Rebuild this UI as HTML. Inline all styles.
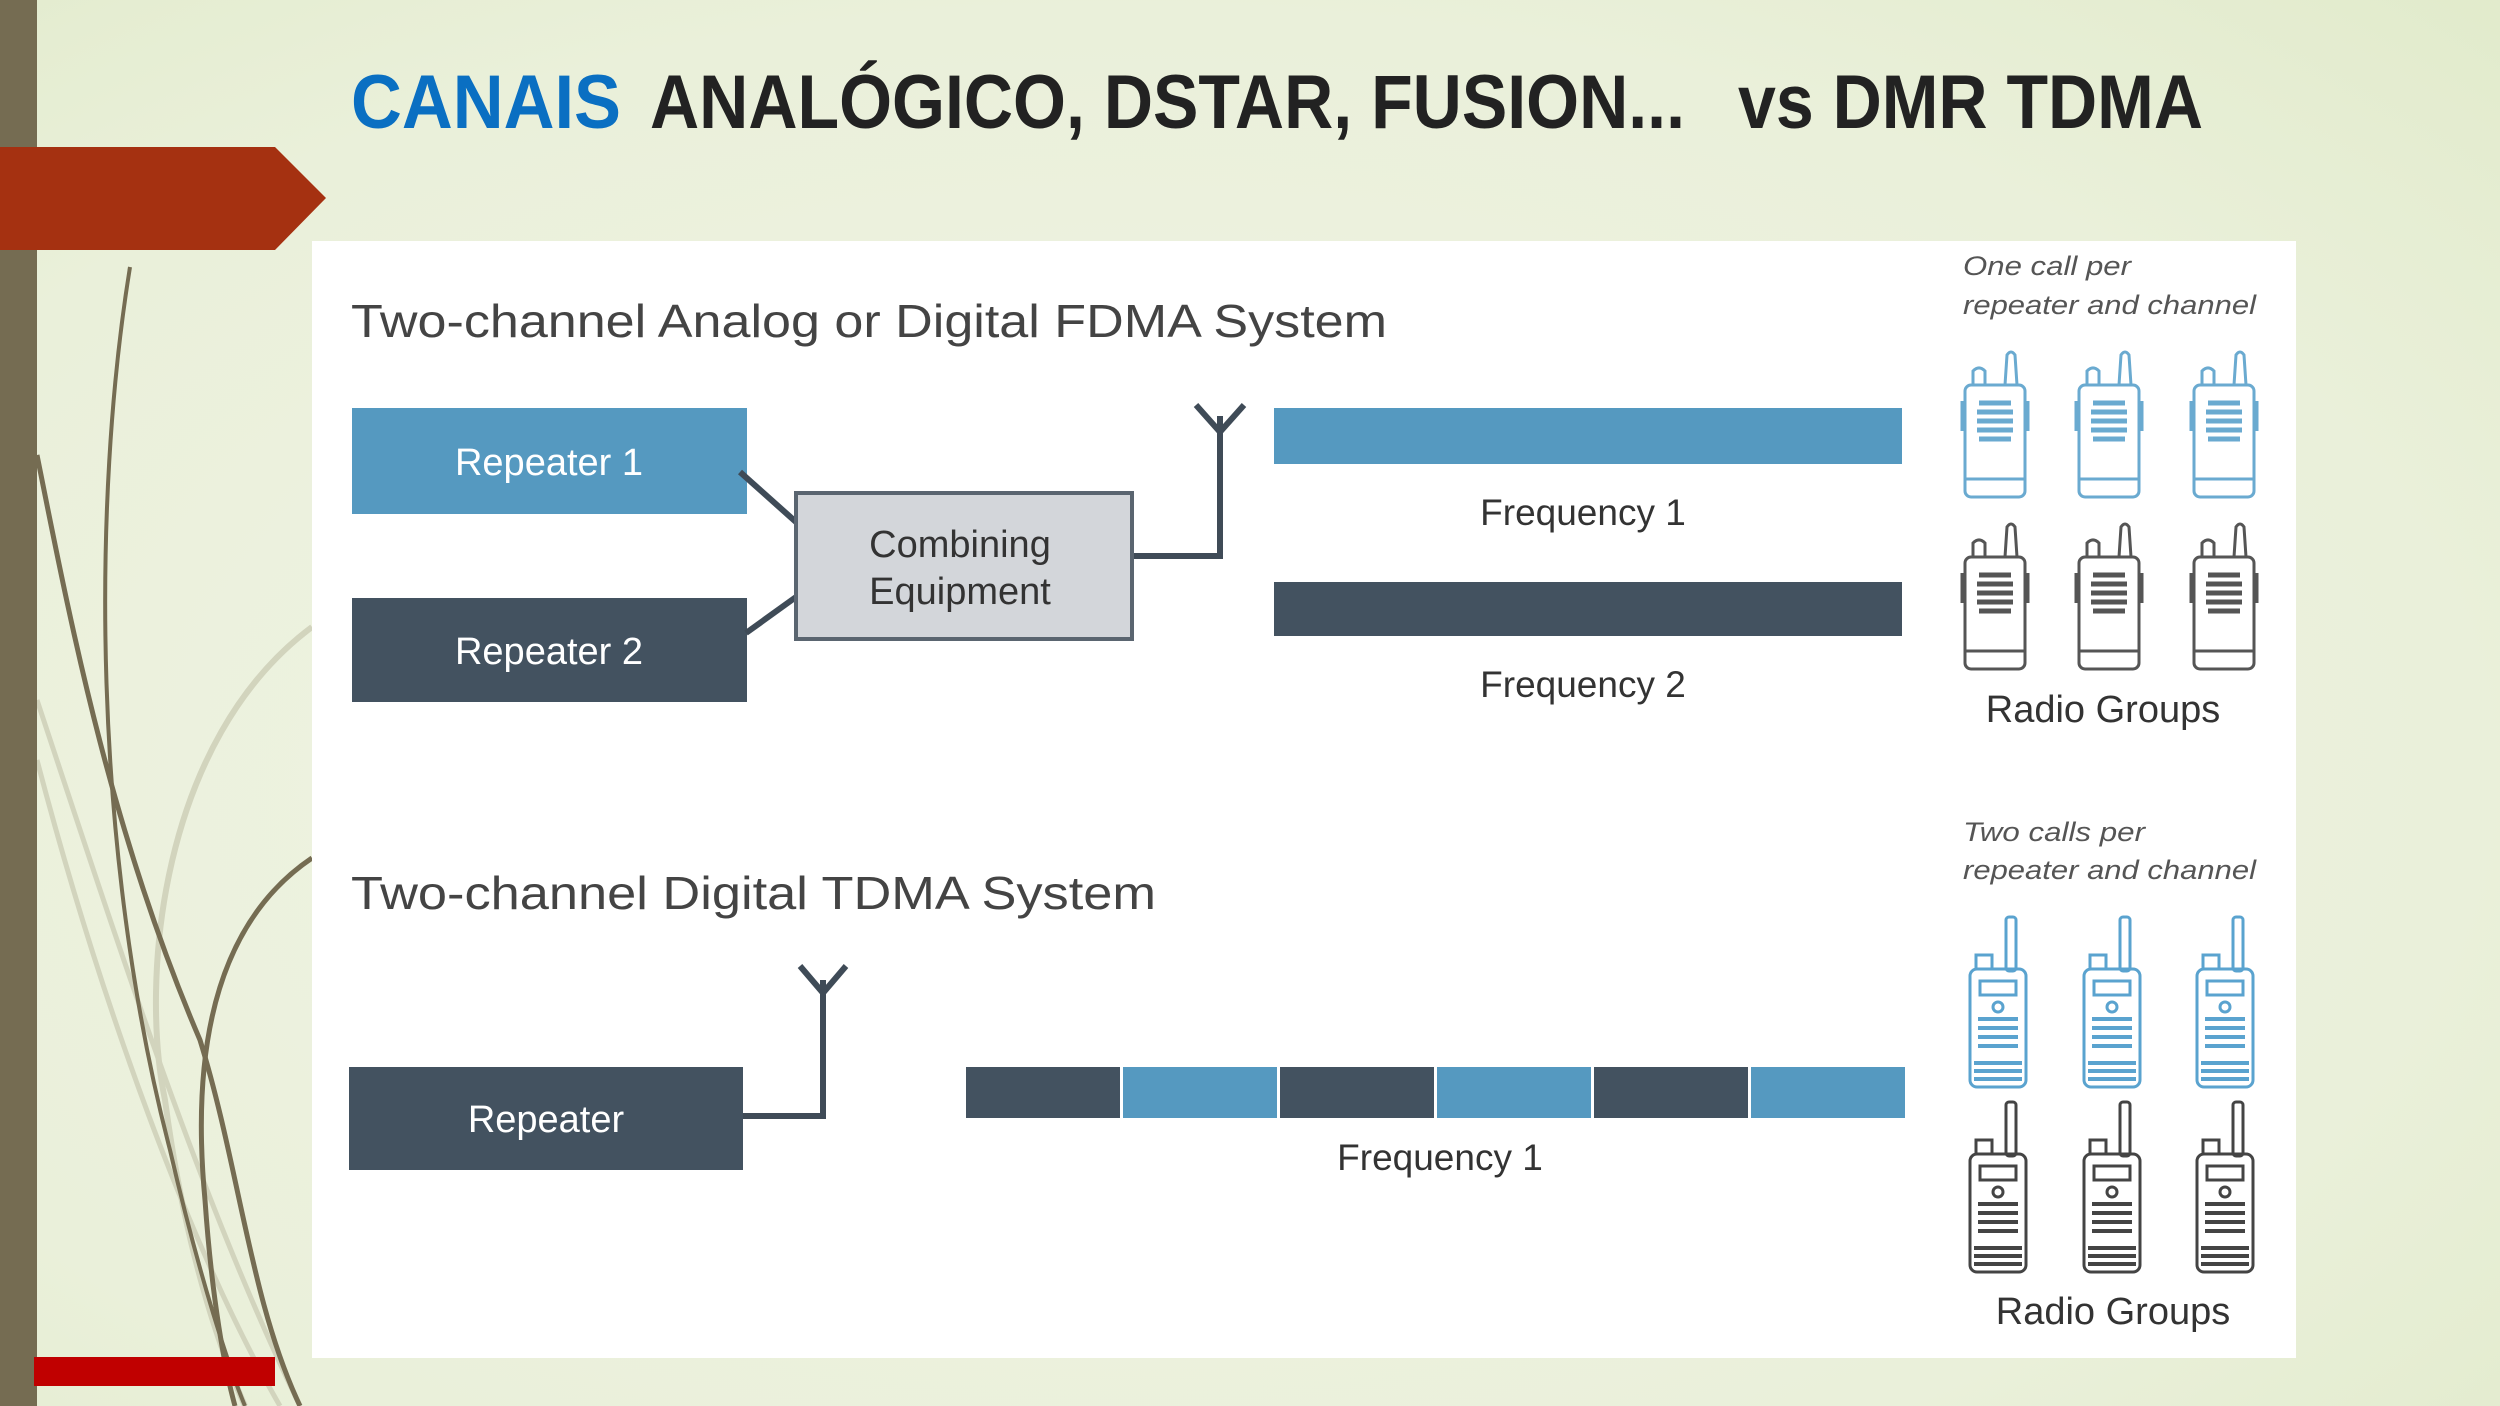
<!DOCTYPE html>
<html><head><meta charset="utf-8"><style>
html,body{margin:0;padding:0;width:2500px;height:1406px;overflow:hidden}
svg{display:block}
text{font-family:"Liberation Sans",sans-serif}
</style></head><body>
<svg width="2500" height="1406" viewBox="0 0 2500 1406" xmlns="http://www.w3.org/2000/svg">
<defs>
<radialGradient id="bg" cx="0.45" cy="0.55" r="0.9">
<stop offset="0" stop-color="#f1f4e6"/><stop offset="0.6" stop-color="#eaf0da"/><stop offset="1" stop-color="#dde8c4"/>
</radialGradient>
<g id="ar" fill="none" stroke-width="3">
<rect x="-30" y="34" width="60" height="112" rx="6"/>
<line x1="-30" y1="128" x2="30" y2="128"/>
<path d="M10 34 L12 4 Q16 -2 20 4 L22 34"/>
<path d="M-22 34 L-22 20 Q-16 14 -10 20 L-10 34"/>
<line x1="-33" y1="50" x2="-33" y2="80"/><line x1="33" y1="50" x2="33" y2="80"/>
<g stroke-width="5"><line x1="-16" y1="52" x2="16" y2="52"/><line x1="-18" y1="61" x2="18" y2="61"/><line x1="-18" y1="70" x2="18" y2="70"/><line x1="-18" y1="79" x2="18" y2="79"/><line x1="-16" y1="88" x2="16" y2="88"/></g>
</g>
<g id="dr" fill="none" stroke-width="3">
<rect x="-28" y="52" width="56" height="118" rx="7"/>
<rect x="8" y="0" width="10" height="54" rx="3"/>
<rect x="-22" y="38" width="16" height="14"/>
<rect x="-18" y="64" width="36" height="14"/>
<circle cx="0" cy="90" r="5"/>
<g stroke-width="4"><line x1="-20" y1="102" x2="20" y2="102"/><line x1="-20" y1="111" x2="20" y2="111"/><line x1="-20" y1="120" x2="20" y2="120"/><line x1="-20" y1="129" x2="20" y2="129"/><line x1="-24" y1="146" x2="24" y2="146"/><line x1="-24" y1="154" x2="24" y2="154"/><line x1="-24" y1="162" x2="24" y2="162"/></g>
</g>
</defs>
<rect width="2500" height="1406" fill="url(#bg)"/>
<g fill="none">
<path d="M37 700 C120 950 200 1200 300 1406" stroke="#d2d4bd" stroke-width="5"/>
<path d="M37 760 C100 1000 190 1250 280 1406" stroke="#d2d4bd" stroke-width="5"/>
<path d="M312 627 C160 740 140 980 165 1100 C185 1250 220 1350 245 1406" stroke="#d2d4bd" stroke-width="6"/>
<path d="M130 267 C92 500 92 850 170 1150 C200 1280 230 1370 245 1406" stroke="#756c52" stroke-width="4"/>
<path d="M37 455 C70 620 110 830 200 1040 C240 1170 250 1300 300 1406" stroke="#756c52" stroke-width="5"/>
<path d="M312 858 C220 920 190 1040 205 1200 C212 1300 225 1370 235 1406" stroke="#756c52" stroke-width="5"/>
</g>
<rect x="0" y="0" width="37" height="1406" fill="#756c52"/>
<path d="M0 147 H275 L326 198 L275 250 H0 Z" fill="#a53111"/>
<rect x="34" y="1357" width="241" height="29" fill="#c00000"/>
<text x="351" y="128" font-size="76" font-weight="bold" fill="#0a6fc2" textLength="270" lengthAdjust="spacingAndGlyphs">CANAIS</text>
<text x="650" y="128" font-size="76" font-weight="bold" fill="#222" textLength="1035" lengthAdjust="spacingAndGlyphs">ANALÓGICO, DSTAR, FUSION...</text>
<text x="1738" y="128" font-size="76" font-weight="bold" fill="#222" textLength="465" lengthAdjust="spacingAndGlyphs">vs DMR TDMA</text>
<rect x="312" y="241" width="1984" height="1117" fill="#fff"/>
<text x="351" y="337" font-size="46" fill="#444" textLength="1036" lengthAdjust="spacingAndGlyphs">Two-channel Analog or Digital FDMA System</text>
<rect x="352" y="408" width="395" height="106" fill="#5599c0"/>
<text x="549" y="475" font-size="38" fill="#fff" text-anchor="middle">Repeater 1</text>
<rect x="352" y="598" width="395" height="104" fill="#435260"/>
<text x="549" y="664" font-size="38" fill="#fff" text-anchor="middle">Repeater 2</text>
<g stroke="#3f4b57" stroke-width="6" fill="none">
<line x1="740" y1="472" x2="796" y2="522"/>
<line x1="746" y1="633" x2="796" y2="597"/>
<polyline points="1132,556 1220,556 1220,416"/>
<polyline points="1196,405 1220,432 1244,405"/>
<polyline points="743,1116 823,1116 823,980"/>
<polyline points="800,966 823,993 846,966"/>
</g>
<rect x="796" y="493" width="336" height="146" fill="#d3d6da" stroke="#5a6570" stroke-width="4"/>
<text x="960" y="557" font-size="38" fill="#333" text-anchor="middle">Combining</text>
<text x="960" y="604" font-size="38" fill="#333" text-anchor="middle">Equipment</text>
<rect x="1274" y="408" width="628" height="56" fill="#5599c0"/>
<text x="1583" y="525" font-size="37" fill="#333" text-anchor="middle">Frequency 1</text>
<rect x="1274" y="582" width="628" height="54" fill="#435260"/>
<text x="1583" y="697" font-size="37" fill="#333" text-anchor="middle">Frequency 2</text>
<text x="1963" y="275" font-size="27" font-style="italic" fill="#555" textLength="168" lengthAdjust="spacingAndGlyphs">One call per</text>
<text x="1963" y="314" font-size="27" font-style="italic" fill="#555" textLength="293" lengthAdjust="spacingAndGlyphs">repeater and channel</text>
<g stroke="#6aaad0"><use href="#ar" x="1995" y="351"/><use href="#ar" x="2109" y="351"/><use href="#ar" x="2224" y="351"/></g>
<g stroke="#555"><use href="#ar" x="1995" y="523"/><use href="#ar" x="2109" y="523"/><use href="#ar" x="2224" y="523"/></g>
<text x="2103" y="722" font-size="38" fill="#333" text-anchor="middle">Radio Groups</text>
<text x="351" y="909" font-size="46" fill="#444" textLength="805" lengthAdjust="spacingAndGlyphs">Two-channel Digital TDMA System</text>
<rect x="349" y="1067" width="394" height="103" fill="#435260"/>
<text x="546" y="1132" font-size="38" fill="#fff" text-anchor="middle">Repeater</text>
<rect x="966" y="1067" width="154" height="51" fill="#435260"/>
<rect x="1123" y="1067" width="154" height="51" fill="#5599c0"/>
<rect x="1280" y="1067" width="154" height="51" fill="#435260"/>
<rect x="1437" y="1067" width="154" height="51" fill="#5599c0"/>
<rect x="1594" y="1067" width="154" height="51" fill="#435260"/>
<rect x="1751" y="1067" width="154" height="51" fill="#5599c0"/>
<text x="1440" y="1170" font-size="37" fill="#333" text-anchor="middle">Frequency 1</text>
<text x="1963" y="841" font-size="27" font-style="italic" fill="#555" textLength="182" lengthAdjust="spacingAndGlyphs">Two calls per</text>
<text x="1963" y="879" font-size="27" font-style="italic" fill="#555" textLength="293" lengthAdjust="spacingAndGlyphs">repeater and channel</text>
<g stroke="#5aa3cf"><use href="#dr" x="1998" y="917"/><use href="#dr" x="2112" y="917"/><use href="#dr" x="2225" y="917"/></g>
<g stroke="#444"><use href="#dr" x="1998" y="1102"/><use href="#dr" x="2112" y="1102"/><use href="#dr" x="2225" y="1102"/></g>
<text x="2113" y="1324" font-size="38" fill="#333" text-anchor="middle">Radio Groups</text>
</svg>
</body></html>
